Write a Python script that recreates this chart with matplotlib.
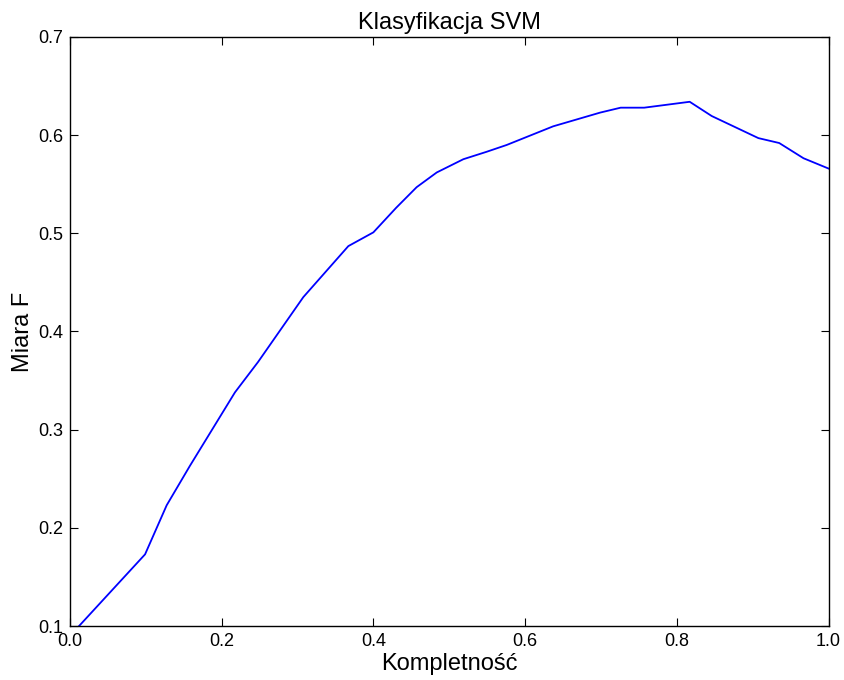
import matplotlib
matplotlib.use('Agg')
import matplotlib.pyplot as plt

plt.rcParams['font.family'] = ['Liberation Sans', 'DejaVu Sans']

recall = [0.012, 0.099, 0.1275, 0.158, 0.2175, 0.248, 0.3076, 0.367, 0.400, 0.43,
          0.457, 0.4835, 0.5186, 0.549, 0.5757, 0.637, 0.668, 0.699, 0.726, 0.757,
          0.817, 0.846, 0.9075, 0.935, 0.967, 1.0]
f_measure = [0.100, 0.173, 0.223, 0.263, 0.338, 0.369, 0.435, 0.487, 0.501, 0.526,
             0.547, 0.562, 0.5755, 0.583, 0.590, 0.609, 0.616, 0.623, 0.628, 0.628,
             0.634, 0.6195, 0.597, 0.592, 0.5765, 0.566]

fig = plt.figure(figsize=(8.45, 6.8), dpi=100)
ax = fig.add_axes([0.0828, 0.0794, 0.8977, 0.8662])

ax.plot(recall, f_measure, color='blue', linewidth=1.3)

ax.set_xlim(0.0, 1.0)
ax.set_ylim(0.1, 0.7)
ax.set_xticks([0.0, 0.2, 0.4, 0.6, 0.8, 1.0])
ax.set_yticks([0.1, 0.2, 0.3, 0.4, 0.5, 0.6, 0.7])
# old-style ticks: inward, on all four sides
ax.tick_params(direction='in', top=True, right=True, length=6, labelsize=13, pad=5)
for s in ax.spines.values():
    s.set_linewidth(1.0)

ax.set_title('Klasyfikacja SVM', fontsize=17, pad=6)
ax.set_xlabel('Kompletność', fontsize=17, labelpad=2)
ax.set_ylabel('Miara F', fontsize=17, labelpad=3)

plt.savefig('out.png', dpi=100)
